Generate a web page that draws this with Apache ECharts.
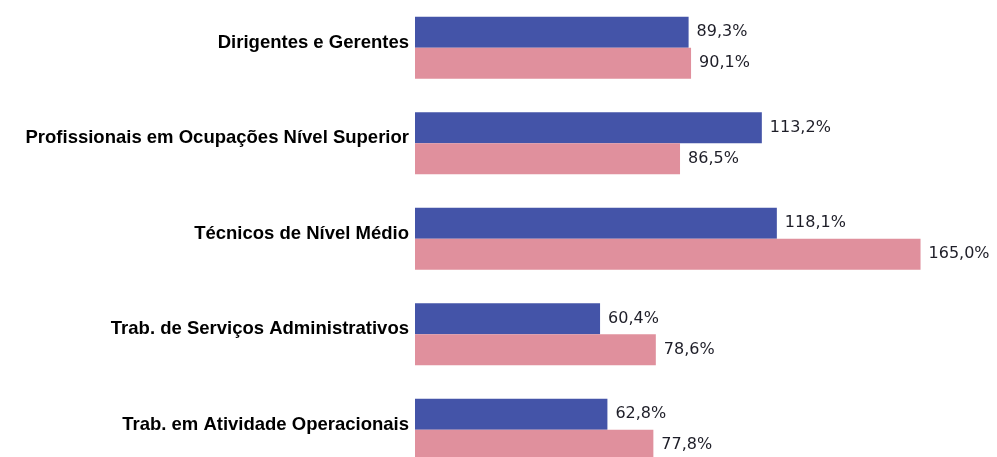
<!DOCTYPE html>
<html>
<head>
<meta charset="utf-8">
<script src="https://cdn.jsdelivr.net/npm/echarts@6/dist/echarts.min.js"></script>
<style>
html, body { margin: 0; padding: 0; background: #fff; }
#chart { width: 997px; height: 457px; }
</style>
</head>
<body>
<div id="chart"></div>
<script>
// categorias (eixo vertical)
var categorias = [
    'Dirigentes e Gerentes',
    'Profissionais em Ocupações Nível Superior',
    'Técnicos de Nível Médio',
    'Trab. de Serviços Administrativos',
    'Trab. em Atividade Operacionais'
];
// valores em %
var serieAzul = [89.3, 113.2, 118.1, 60.4, 62.8];
var serieRosa = [90.1, 86.5, 165.0, 78.6, 77.8];

var chart = echarts.init(document.getElementById('chart'));

var rotulo = {
    show: true,
    position: 'right',
    distance: 8,
    color: '#1e1e28',
    fontFamily: 'DejaVu Sans',
    fontSize: 16,
    formatter: function (p) {
        return p.value.toFixed(1).replace('.', ',') + '%';
    }
};

var option = {
    animation: false,
    grid: {
        left: 415,
        top: 0,
        width: 551.5,
        height: 477.5,
        outerBoundsMode: 'none'
    },
    xAxis: {
        type: 'value',
        min: 0,
        max: 180,
        show: false
    },
    yAxis: {
        type: 'category',
        inverse: true,
        data: categorias,
        axisLine: { show: false },
        axisTick: { show: false },
        axisLabel: {
            margin: 6,
            color: '#000',
            fontFamily: 'Liberation Sans',
            fontWeight: 'bold',
            fontSize: 18.5,
            // sobe o texto uns 5px em relação ao centro da categoria
            verticalAlign: 'bottom',
            lineHeight: 10
        }
    },
    series: [{
            name: 'azul',
            type: 'bar',
            barGap: '0%',
            barCategoryGap: '35%',
            itemStyle: { color: '#4454A8' },
            label: rotulo,
            data: serieAzul
        },
        {
            name: 'rosa',
            type: 'bar',
            barGap: '0%',
            barCategoryGap: '35%',
            itemStyle: { color: '#E0909D' },
            label: rotulo,
            data: serieRosa
        }
    ]
};
chart.setOption(option);
</script>
</body>
</html>
